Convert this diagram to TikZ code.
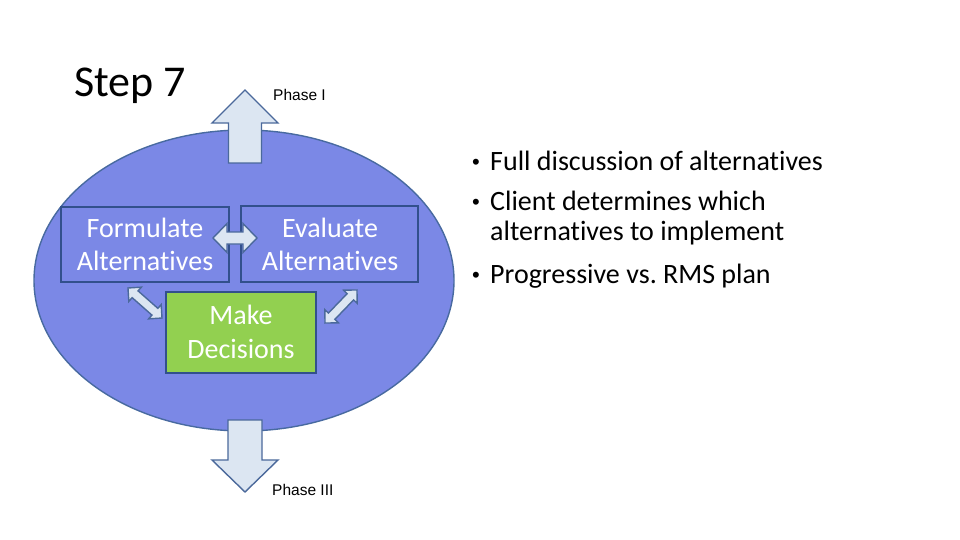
\documentclass[tikz,border=0pt]{standalone}
\usepackage{fontspec}
\setmainfont{Carlito}[Ligatures={NoCommon}]
\newfontfamily\phasefont{Liberation Sans}
\usetikzlibrary{shapes.geometric}
\definecolor{ellfill}{RGB}{123,136,230}
\definecolor{ellline}{RGB}{72,106,160}
\definecolor{boxline}{RGB}{50,80,140}
\definecolor{decfill}{RGB}{146,208,80}
\definecolor{arrfill}{RGB}{220,230,242}
\definecolor{arrline}{RGB}{75,105,155}
\newcommand\dblarr[7]{%
  \draw[blockarrow,shift={#1},rotate=#2] (-#3,0) -- (-#3+#4,#5) -- (-#3+#4,#6) -- (#3-#4,#6) -- (#3-#4,#5) -- (#3,0) -- (#3-#4,-#5) -- (#3-#4,-#6) -- (-#3+#4,-#6) -- (-#3+#4,-#5) -- cycle;
  \coordinate (#7) at #1;}
\begin{document}
\begin{tikzpicture}[x=1pt,y=-1pt,
  boxtext/.style={font=\fontsize{28}{33}\selectfont,text=white,anchor=base,inner sep=0pt},
  bullettext/.style={font=\fontsize{28}{33}\selectfont,text=black,anchor=base west,inner sep=0pt},
  bulletdot/.style={font=\phasefont\fontsize{22}{26}\selectfont,text=black,anchor=base west,inner sep=0pt},
  phasetext/.style={font=\phasefont\fontsize{15.5}{18}\selectfont,anchor=base west,inner sep=0pt},
  procbox/.style={draw=boxline,line width=1.8pt,rectangle,inner sep=0pt},
  blockarrow/.style={draw=arrline,fill=arrfill,line width=1.4pt,line join=miter}]
\useasboundingbox (0,0) rectangle (960,540);
\fill[white] (0,0) rectangle (960,540);
% title
\node[font=\fontsize{44}{53}\selectfont,anchor=base west,inner sep=0pt] (title) at (74,97) {Step 7};
% ellipse
\node[ellipse,draw=ellline,fill=ellfill,line width=1.4pt,minimum width=420pt,minimum height=301pt,inner sep=0pt] (cycle) at (244,280.5) {};
% up arrow to Phase I
\coordinate (uptip) at (245,90);
\draw[blockarrow,shift={(uptip)}] (0,0) -- (33,33) -- (16.5,33) -- (16.5,73) -- (-16.5,73) -- (-16.5,33) -- (-33,33) -- cycle;
% down arrow to Phase III
\coordinate (downtip) at (245,492);
\draw[blockarrow,shift={(downtip)}] (0,0) -- (33,-32) -- (17,-32) -- (17,-72) -- (-17,-72) -- (-17,-32) -- (-33,-32) -- cycle;
\node[phasetext] (p1) at (273,101) {Phase I};
\node[phasetext] (p3) at (272,495) {Phase III};
% boxes
\node[procbox,fill=ellfill,minimum width=168pt,minimum height=75pt] (form) at (145,244.5) {};
\node[procbox,fill=ellfill,minimum width=177pt,minimum height=76pt] (eval) at (329.5,244) {};
\node[procbox,fill=decfill,minimum width=150pt,minimum height=81pt] (dec) at (241,332.5) {};
\node[boxtext] (form1) at (145,237) {Formulate};
\node[boxtext] (form2) at (145,270) {Alternatives};
\node[boxtext] (eval1) at (330,237) {Evaluate};
\node[boxtext] (eval2) at (330,270) {Alternatives};
\node[boxtext] (dec1) at (241,324) {Make};
\node[boxtext] (dec2) at (241,358) {Decisions};
% small double arrows
\dblarr{(235,238)}{0}{22}{14}{14.5}{6}{ha}
\dblarr{(145,303)}{-41.4}{22.7}{9.5}{9.5}{4.5}{la}
\dblarr{(341,306.5)}{46}{23}{9.5}{9.5}{4.5}{ra}
% bullets
\node[bulletdot] (d1) at (472,170) {•};
\node[bullettext] (b1) at (490,171) {Full discussion of alternatives};
\node[bulletdot] (d2) at (472,209) {•};
\node[bullettext] (b2) at (490,210) {Client determines which};
\node[bullettext] (b2b) at (490,240) {alternatives to implement};
\node[bulletdot] (d3) at (472,282) {•};
\node[bullettext] (b3) at (490,283) {Progressive vs.\ RMS plan};
\end{tikzpicture}
\end{document}
